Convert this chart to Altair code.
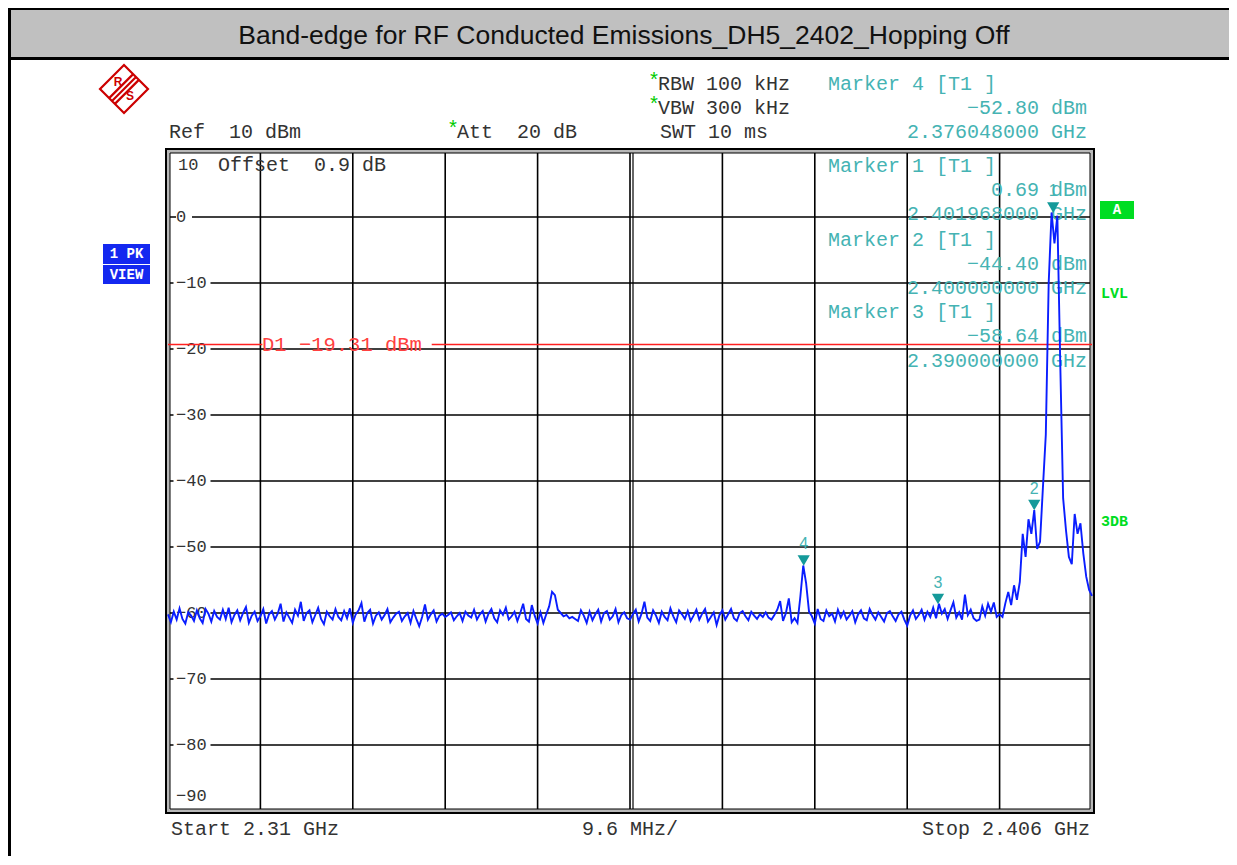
import altair as alt
import numpy as np
import pandas as pd

TITLE = "Band-edge for RF Conducted Emissions_DH5_2402_Hopping Off"
F_START, F_STOP = 2310.0, 2406.0      # MHz
Y_BOTTOM, Y_TOP = -90, 10             # dBm

# trace levels (dBm), one per sweep point
levels = [
    -60.2, -61.4, -59.8, -61.0, -59.3, -60.9, -61.6, -59.9, -60.4, -61.2,
    -59.6, -60.8, -61.5, -59.4, -60.1, -61.3, -59.7, -60.6, -61.0, -59.5,
    -60.9, -59.2, -61.4, -60.3, -59.6, -61.1, -60.0, -59.1, -61.5, -60.4,
    -59.8, -61.2, -60.5, -59.4, -61.6, -60.2, -59.7, -61.0, -60.1, -58.6,
    -61.3, -59.9, -60.7, -61.5, -59.5, -60.4, -58.3, -61.2, -60.0, -59.6,
    -61.4, -60.3, -59.2, -60.9, -61.7, -59.8, -60.5, -61.0, -59.4, -60.6,
    -61.1, -59.7, -60.8, -59.3, -61.5, -60.2, -59.6, -58.5, -61.3, -60.0,
    -59.5, -61.6, -60.4, -59.9, -61.0, -60.3, -59.4, -61.4, -60.7, -60.1,
    -59.8, -61.2, -60.5, -60.0, -61.5, -59.7, -60.9, -62.0, -60.6, -58.7,
    -61.0, -60.2, -59.6, -61.3, -60.4, -60.1, -60.6, -60.3, -59.9, -61.1,
    -60.5, -60.0, -61.2, -59.8, -60.4, -60.7, -59.5, -61.0, -60.2, -59.7,
    -61.3, -60.1, -59.4, -60.8, -61.4, -59.6, -60.3, -59.2, -61.0, -60.5,
    -59.8, -61.2, -60.0, -58.6, -60.9, -61.3, -58.8, -60.4, -61.6, -59.9,
    -61.5, -60.2, -59.0, -56.8, -57.3, -59.5, -60.0, -60.5, -60.3, -60.8,
    -60.6, -60.9, -61.2, -59.6, -60.4, -61.5, -59.8, -61.1, -60.2, -59.5,
    -61.3, -60.0, -59.7, -61.0, -60.5, -59.4, -61.4, -60.3, -59.9, -60.8,
    -61.0, -60.2, -59.5, -61.3, -60.1, -58.3, -60.7, -61.2, -59.6, -60.4,
    -61.5, -59.8, -60.6, -61.1, -59.3, -60.5, -61.4, -59.6, -60.2, -60.9,
    -59.7, -61.2, -60.4, -59.5, -61.0, -60.1, -59.4, -61.3, -60.6, -59.9,
    -61.8, -60.3, -59.6, -61.0, -60.2, -59.4, -60.8, -61.2, -60.0, -59.7,
    -60.5, -61.1, -59.8, -60.4, -60.9, -60.2, -60.6, -59.9, -60.7, -61.0,
    -60.3, -59.5, -58.2, -61.2, -60.0, -57.8, -61.4, -60.8, -61.5, -57.5,
    -52.8, -55.5, -59.8, -60.5, -61.6, -59.4, -60.9, -61.2, -59.6, -60.5,
    -60.1, -61.3, -59.5, -60.7, -59.8, -61.0, -60.4, -59.7, -61.4, -60.2,
    -59.6, -60.8, -61.1, -59.4, -60.3, -61.0, -59.9, -60.6, -61.3, -60.0,
    -59.7, -60.5, -61.2, -60.2, -59.8, -61.0, -61.9, -60.4, -59.6, -60.9,
    -60.3, -59.5, -61.0, -59.8, -60.6, -59.2, -60.8, -58.6, -60.1, -59.4,
    -60.9, -59.6, -58.4, -60.7, -59.9, -61.0, -57.2, -60.3, -59.5, -60.8,
    -61.2, -61.0, -59.0, -60.4, -58.6, -59.8, -58.4, -60.6, -60.2,
    -60.6, -58.5, -56.8, -58.8, -55.8, -58.0, -55.3, -48.0, -51.5, -45.8,
    -48.0, -44.4, -50.3, -49.2, -41.0, -33.0, -10.0, 0.69, -4.0, 0.2,
    -22.0, -42.6, -47.5, -51.5, -52.6, -45.0, -48.0, -46.4, -51.0, -54.5,
    -56.5, -57.4,
]

marker_ids = ["1", "2", "3", "4"]
marker_freqs = [2401.968, 2400.000, 2390.000, 2376.048]
marker_levels = [0.69, -44.40, -58.64, -52.80]

d1_level = -19.31
d1_from = [2310.0, 2337.4]
d1_to = [2319.8, 2406.0]

grid_freqs = [2319.6, 2329.2, 2338.8, 2348.4, 2358.0, 2367.6, 2377.2, 2386.8, 2396.4]
grid_levels = [0, -10, -20, -30, -40, -50, -60, -70, -80]
label_levels_3 = [-10, -20, -30, -40, -50, -60, -70, -80]

W, H = 924, 660
MONO = "Courier New, Liberation Mono, monospace"
SANS = "Liberation Sans, Arial, sans-serif"
TEAL = "#45B3B3"
DARK = "#333333"
GREEN = "#00DD22"
SP = "\u00a0"   # non-collapsing space
MINUS = "\u2212"

freqs = np.linspace(F_START, F_STOP, len(levels))
trace_df = pd.DataFrame({"f": freqs, "v": levels})
marker_df = pd.DataFrame({"f": marker_freqs, "v": marker_levels, "id": marker_ids})

X = alt.X("f:Q", scale=alt.Scale(domain=[F_START, F_STOP], nice=False, zero=False), axis=None)
Y = alt.Y("v:Q", scale=alt.Scale(domain=[Y_BOTTOM, Y_TOP], nice=False, zero=False), axis=None)


def one():
    return alt.Chart(alt.Data(values=[{}]))


def txt(s, x, y, color=DARK, size=20, align="left", font=MONO, weight="normal"):
    s = s.replace(" ", SP)
    return one().mark_text(text=s, align=align, baseline="middle", font=font,
                           fontSize=size, color=color, fontWeight=weight).encode(
        x=alt.value(x), y=alt.value(y))


def box(x, x2, y, y2, color):
    return one().mark_rect(color=color).encode(
        x=alt.value(x), x2=alt.value(x2), y=alt.value(y), y2=alt.value(y2))


def hline(x, x2, y, width, color="black"):
    return one().mark_rule(color=color, strokeWidth=width).encode(
        x=alt.value(x), x2=alt.value(x2), y=alt.value(y))


layers = []
# page frame and title bar
layers.append(box(-160, 1080, -142, -94, "#C0C0C0"))
layers.append(hline(-160, 1080, -142, 2))
layers.append(hline(-160, 1080, -92.5, 3))
layers.append(one().mark_rule(color="black", strokeWidth=3).encode(
    x=alt.value(-158.5), y=alt.value(-143), y2=alt.value(720)))
layers.append(one().mark_text(text=TITLE, align="center", baseline="middle", font=SANS,
                              fontSize=26.5, color="#111111").encode(
    x=alt.value(456), y=alt.value(-115)))

# grid
layers.append(alt.Chart(pd.DataFrame({"f": grid_freqs})).mark_rule(
    color="black", strokeWidth=1.6).encode(x=X, y=alt.value(0), y2=alt.value(H)))
layers.append(alt.Chart(pd.DataFrame({"f": [grid_freqs[4]]})).mark_rule(
    color="black", strokeWidth=1.2, xOffset=3).encode(x=X, y=alt.value(0), y2=alt.value(H)))
layers.append(alt.Chart(pd.DataFrame({"v": grid_levels})).mark_rule(
    color="black", strokeWidth=1.6).encode(y=Y, x=alt.value(0), x2=alt.value(W)))

# double frame
layers.append(one().mark_rect(filled=False, stroke="#B8B8B8", strokeWidth=4).encode(
    x=alt.value(0), x2=alt.value(W), y=alt.value(0), y2=alt.value(H)))
layers.append(one().mark_rect(filled=False, stroke="black", strokeWidth=2).encode(
    x=alt.value(-2), x2=alt.value(W + 2), y=alt.value(-2), y2=alt.value(H + 2)))
layers.append(one().mark_rect(filled=False, stroke="black", strokeWidth=1).encode(
    x=alt.value(2), x2=alt.value(W - 2), y=alt.value(2), y2=alt.value(H - 2)))

# level labels inside the plot, with a white gap in the grid line
RECT = "M-1,-0.3L1,-0.3L1,0.3L-1,0.3Z"
layers.append(alt.Chart(pd.DataFrame({"v": [0]})).mark_point(
    shape=RECT, filled=True, color="white", opacity=1, size=256, xOffset=16).encode(
    y=Y, x=alt.value(0)))
layers.append(alt.Chart(pd.DataFrame({"v": label_levels_3})).mark_point(
    shape=RECT, filled=True, color="white", opacity=1, size=1369, xOffset=24).encode(
    y=Y, x=alt.value(0)))
layers.append(alt.Chart(pd.DataFrame({"v": grid_levels})).transform_calculate(
    lab="replace(toString(datum.v), '-', '\u2212')").mark_text(
    align="left", baseline="middle", font=MONO, fontSize=17, color=DARK).encode(
    y=Y, x=alt.value(8), text="lab:N"))
layers.append(txt(MINUS + "90", 8, 645, size=17))
layers.append(txt("10", 10, 14, size=17))
layers.append(txt("Offset  0.9 dB", 50, 14))

# display line D1
layers.append(alt.Chart(pd.DataFrame({"f": d1_from, "f2": d1_to, "v": [d1_level] * 2})).mark_rule(
    color="#FF2020", strokeWidth=1.6).encode(x=X, x2="f2:Q", y=Y))
layers.append(txt("D1 " + MINUS + "19.31 dBm", 94, 194, color="#FF4040", size=20.5))

# marker readouts in the plot
rows = [
    ("Marker 1 [T1 ]", 15, "left"), ("0.69 dBm", 39, "right"), ("2.401968000 GHz", 63, "right"),
    ("Marker 2 [T1 ]", 89, "left"), (MINUS + "44.40 dBm", 113, "right"), ("2.400000000 GHz", 137, "right"),
    ("Marker 3 [T1 ]", 161, "left"), (MINUS + "58.64 dBm", 185, "right"), ("2.390000000 GHz", 210, "right"),
]
for s, yy, al in rows:
    layers.append(txt(s, 660 if al == "left" else 919, yy, color=TEAL, align=al))

# trace
layers.append(alt.Chart(trace_df).mark_line(color="#0A1EFF", strokeWidth=1.9).encode(x=X, y=Y))

# markers
layers.append(alt.Chart(marker_df).mark_point(
    shape="triangle-down", filled=True, color="#159A9A", opacity=1, size=150, yOffset=-5).encode(x=X, y=Y))
layers.append(alt.Chart(marker_df).mark_text(
    font=SANS, fontSize=16, color=TEAL, dy=-21, baseline="middle").encode(x=X, y=Y, text="id:N"))

# header settings
layers.append(txt("Ref  10 dBm", 1, -19))
layers.append(txt("*", 279, -22, color="#00CC00"))
layers.append(txt("Att  20 dB", 289, -19))
layers.append(txt("*", 480, -70, color="#00CC00"))
layers.append(txt("RBW 100 kHz", 490, -67))
layers.append(txt("*", 480, -46, color="#00CC00"))
layers.append(txt("VBW 300 kHz", 490, -43))
layers.append(txt("SWT 10 ms", 492, -19))
layers.append(txt("Marker 4 [T1 ]", 660, -67, color=TEAL))
layers.append(txt(MINUS + "52.80 dBm", 919, -43, color=TEAL, align="right"))
layers.append(txt("2.376048000 GHz", 919, -19, color=TEAL, align="right"))

# right side annotations
layers.append(box(932, 966, 50, 68, GREEN))
layers.append(txt("A", 949, 59, color="white", size=14, align="center", weight="bold"))
layers.append(txt("LVL", 933, 142, color=GREEN, size=15, weight="bold"))
layers.append(txt("3DB", 933, 370, color=GREEN, size=15, weight="bold"))

# left trace info box
layers.append(box(-65, -18, 93, 113, "#1428F0"))
layers.append(box(-65, -18, 114, 133, "#1428F0"))
layers.append(txt("1 PK", -41.5, 103, color="white", size=14, align="center", weight="bold"))
layers.append(txt("VIEW", -41.5, 124, color="white", size=14, align="center", weight="bold"))

# R&S logo
LOGO = ("M0,-1L1,0L0,1L-1,0Z"
        "M0.38,-0.62L-0.62,0.38M0.5,-0.5L-0.5,0.5M0.62,-0.38L-0.38,0.62")
layers.append(one().mark_point(shape=LOGO, filled=False, color="#CC0000", strokeWidth=2.2,
                               size=2300, opacity=1).encode(x=alt.value(-44), y=alt.value(-62)))
layers.append(txt("R", -50, -69, color="#CC0000", size=12, align="center", font=SANS, weight="bold"))
layers.append(txt("S", -38, -55, color="#CC0000", size=12, align="center", font=SANS, weight="bold"))

# bottom frequency info
layers.append(txt("Start 2.31 GHz", 3, 678))
layers.append(txt("9.6 MHz/", 414, 678))
layers.append(txt("Stop 2.406 GHz", 922, 678, align="right"))

chart = alt.layer(*layers).properties(
    width=W, height=H,
    padding={"left": 160, "top": 143, "right": 137, "bottom": 45},
    autosize=alt.AutoSizeParams(type="none"),
    background="white",
).configure_view(stroke=None)

chart.save("out.html", embed_options={"renderer": "svg", "actions": False})
